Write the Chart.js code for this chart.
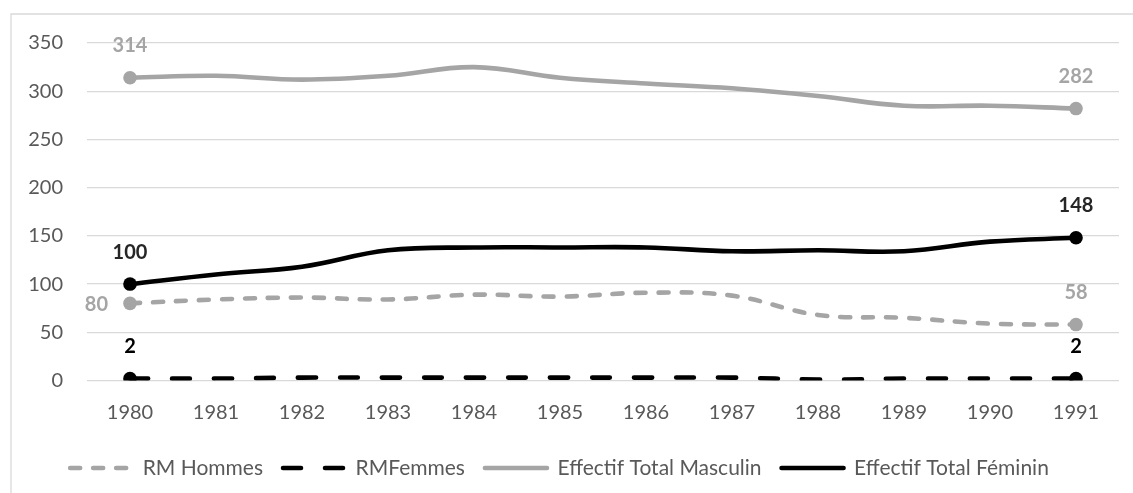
<!DOCTYPE html>
<html><head><meta charset="utf-8">
<script src="https://cdn.jsdelivr.net/npm/chart.js@4/dist/chart.umd.min.js"></script>
<style>html,body{margin:0;padding:0;background:#fff;overflow:hidden}canvas{display:block}</style>
</head><body>
<canvas id="c" width="1133" height="493"></canvas>
<script>
// ---- data ----
const years = ['1980','1981','1982','1983','1984','1985','1986','1987','1988','1989','1990','1991'];
const rmHommes = [80, 84, 86, 84, 89, 87, 91, 88, 68, 65, 59, 58];
const rmFemmes = [2, 2, 3, 3, 3, 3, 3, 3, 1, 2, 2, 2];
const totalMasculin = [314, 316, 312, 316, 325, 314, 308, 303, 295, 285, 285, 282];
const totalFeminin = [100, 110, 118, 135, 138, 138, 138, 134, 135, 134, 144, 148];
const seriesNames = ['RM Hommes', 'RMFemmes', 'Effectif Total Masculin', 'Effectif Total Féminin'];
const yMin = 0, yMax = 350, yStep = 50;

// ---- styles ----
const GRAY = '#A5A5A5', BLACK = '#000000';
const FONT = 'Lato, "Open Sans", sans-serif';
const labelStyle = [
  {color: GRAY, pos: ['left', 'top']},
  {color: '#000000', pos: ['top', 'top']},
  {color: GRAY, pos: ['top', 'top']},
  {color: '#262626', pos: ['top', 'top']}
];

const endRadius = ctx => (ctx.dataIndex === 0 || ctx.dataIndex === years.length - 1) ? 6.8 : 0;

const endLabels = {
  id: 'endLabels',
  afterDatasetsDraw(chart) {
    const ctx = chart.ctx;
    chart.data.datasets.forEach((ds, i) => {
      const meta = chart.getDatasetMeta(i);
      const st = labelStyle[i];
      [0, meta.data.length - 1].forEach((idx, k) => {
        const pt = meta.data[idx];
        ctx.save();
        ctx.font = 'bold 20px ' + FONT;
        ctx.fillStyle = st.color;
        ctx.textBaseline = 'middle';
        if (st.pos[k] === 'left') {
          ctx.textAlign = 'right';
          ctx.fillText(String(ds.data[idx]), pt.x - 22, pt.y + 1.5);
        } else {
          ctx.textAlign = 'center';
          ctx.fillText(String(ds.data[idx]), pt.x, pt.y - 32);
        }
        ctx.restore();
      });
    });
  }
};

const frame = {
  id: 'frame',
  beforeDraw(chart) {
    const ctx = chart.ctx;
    ctx.save();
    ctx.fillStyle = '#fff';
    ctx.fillRect(0, 0, chart.width, chart.height);
    ctx.strokeStyle = '#d9d9d9';
    ctx.lineWidth = 1.3;
    ctx.beginPath();
    ctx.moveTo(11, chart.height + 5);
    ctx.lineTo(11, 14);
    ctx.lineTo(chart.width + 5, 14);
    ctx.stroke();
    ctx.restore();
  }
};

const mk = (label, data, color, dash) => ({
  label, data,
  borderColor: color, backgroundColor: color,
  pointBackgroundColor: color, pointBorderColor: color, pointBorderWidth: 0,
  borderWidth: 4.6, borderDash: dash, borderCapStyle: 'round',
  tension: 0.4, pointRadius: endRadius, pointHoverRadius: endRadius, fill: false
});

new Chart(document.getElementById('c'), {
  type: 'line',
  data: {
    labels: years,
    datasets: [
      mk(seriesNames[0], rmHommes, GRAY, [10, 13]),
      mk(seriesNames[1], rmFemmes, BLACK, [18, 24]),
      mk(seriesNames[2], totalMasculin, GRAY, []),
      mk(seriesNames[3], totalFeminin, BLACK, [])
    ]
  },
  options: {
    responsive: false,
    animation: false,
    layout: {padding: {left: 0, right: 14, top: 43, bottom: 4.5}},
    scales: {
      x: {
        offset: true,
        grid: {display: false, drawTicks: false},
        border: {display: false},
        ticks: {color: '#595959', font: {family: FONT, size: 20}, padding: 20, maxRotation: 0},
        afterFit: s => { s.height = 57; }
      },
      y: {
        min: yMin, max: yMax,
        grid: {color: '#d9d9d9', lineWidth: 1.3, drawTicks: false},
        border: {display: false},
        ticks: {stepSize: yStep, color: '#595959', font: {family: FONT, size: 20}, padding: 24},
        afterFit: s => { s.width = 87; }
      }
    },
    plugins: {
      tooltip: {enabled: false},
      legend: {
        position: 'bottom',
        labels: {
          usePointStyle: true,
          pointStyleWidth: 62,
          padding: 20,
          color: '#595959',
          font: {family: FONT, size: 21},
          generateLabels(chart) {
            return chart.data.datasets.map((ds, i) => ({
              text: ds.label,
              fillStyle: ds.borderColor,
              strokeStyle: ds.borderColor,
              lineWidth: 4.6,
              lineDash: ds.borderDash || [],
              lineCap: 'round',
              pointStyle: 'line',
              datasetIndex: i,
              hidden: false,
              fontColor: '#595959'
            }));
          }
        }
      }
    }
  },
  plugins: [frame, endLabels]
});
</script>
</body></html>
